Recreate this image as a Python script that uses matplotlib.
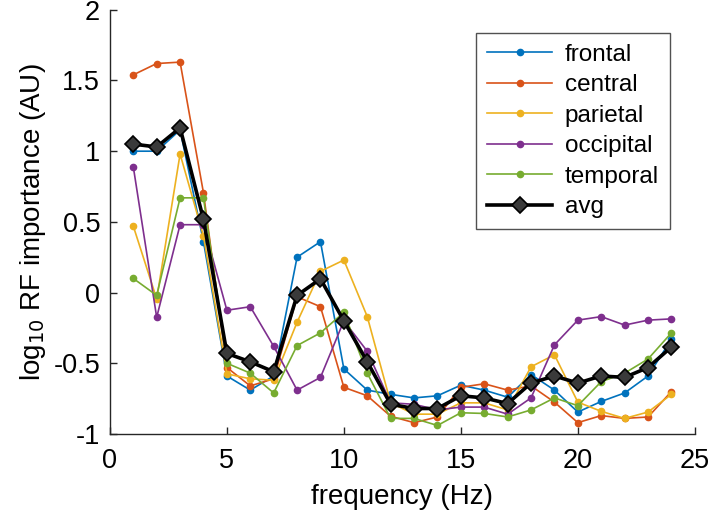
import numpy as np
import matplotlib
matplotlib.use("Agg")
import matplotlib.pyplot as plt

plt.rcParams['font.family'] = ['Liberation Sans', 'DejaVu Sans']

# frequency bins (Hz)
freq = np.arange(1, 25)

# log10 RF importance per region
frontal = [1.00, 1.00, 1.15, 0.36, -0.59, -0.69, -0.59, 0.25, 0.36, -0.54, -0.69, -0.72,
           -0.745, -0.73, -0.655, -0.69, -0.74, -0.58, -0.69, -0.845, -0.77, -0.71, -0.59, -0.33]
central = [1.54, 1.62, 1.63, 0.705, -0.53, -0.66, -0.61, -0.03, -0.10, -0.67, -0.73, -0.875,
           -0.92, -0.88, -0.67, -0.645, -0.69, -0.66, -0.775, -0.92, -0.87, -0.89, -0.88, -0.70]
parietal = [0.47, -0.045, 0.98, 0.40, -0.575, -0.61, -0.62, -0.21, 0.15, 0.23, -0.17, -0.78,
            -0.86, -0.86, -0.78, -0.78, -0.83, -0.525, -0.44, -0.775, -0.84, -0.89, -0.845, -0.72]
occipital = [0.89, -0.175, 0.48, 0.48, -0.125, -0.10, -0.38, -0.69, -0.60, -0.20, -0.415, -0.78,
             -0.79, -0.83, -0.81, -0.81, -0.86, -0.745, -0.37, -0.195, -0.17, -0.23, -0.195, -0.186]
temporal = [0.10, -0.02, 0.67, 0.67, -0.50, -0.57, -0.71, -0.375, -0.285, -0.14, -0.57, -0.89,
            -0.89, -0.94, -0.85, -0.855, -0.88, -0.83, -0.745, -0.80, -0.63, -0.57, -0.47, -0.285]
avg = [1.05, 1.03, 1.165, 0.517, -0.43, -0.49, -0.56, -0.02, 0.097, -0.20, -0.49, -0.79,
       -0.82, -0.82, -0.73, -0.745, -0.785, -0.64, -0.59, -0.64, -0.59, -0.60, -0.53, -0.385]

regions = ['frontal', 'central', 'parietal', 'occipital', 'temporal']
region_values = [frontal, central, parietal, occipital, temporal]
# MATLAB default line colours
line_colors = ['#0072BD', '#D95319', '#EDB120', '#7E2F8E', '#77AC30']

fig = plt.figure(figsize=(7.09, 5.16), dpi=100)
ax = fig.add_axes([0.155, 0.159, 0.825, 0.822])

for name, vals, col in zip(regions, region_values, line_colors):
    ax.plot(freq, vals, '-o', color=col, lw=1.2, markersize=4.5, label=name)

ax.plot(freq, avg, '-D', color='black', lw=2.6, markersize=8,
        markerfacecolor='#3a3a3a', markeredgecolor='black', markeredgewidth=1.2, label='avg')

ax.set_xlim(0, 25)
ax.set_ylim(-1, 2)
ax.set_xticks([0, 5, 10, 15, 20, 25])
ax.set_yticks([-1, -0.5, 0, 0.5, 1, 1.5, 2])
ax.set_yticklabels(['-1', '-0.5', '0', '0.5', '1', '1.5', '2'])

for side in ['top', 'right']:
    ax.spines[side].set_visible(False)
for side in ['left', 'bottom']:
    ax.spines[side].set_color('#262626')
    ax.spines[side].set_linewidth(1.0)

ax.tick_params(direction='in', length=5, width=1.0, labelsize=19.5, colors='#262626',
               labelcolor='black')
ax.tick_params(axis='x', pad=10)
ax.tick_params(axis='y', pad=7)

ax.set_xlabel('frequency (Hz)', fontsize=20, labelpad=7)
ax.set_ylabel('log$_{10}$ RF importance (AU)', fontsize=20, labelpad=4)

leg = ax.legend(loc='upper right', bbox_to_anchor=(0.957, 0.946), borderaxespad=0,
                fontsize=17.5, frameon=True, fancybox=False, handlelength=2.7,
                labelspacing=0.35, borderpad=0.45, handletextpad=0.5)
leg.get_frame().set_edgecolor('#262626')
leg.get_frame().set_linewidth(1.0)

fig.savefig('out.png', dpi=100)
